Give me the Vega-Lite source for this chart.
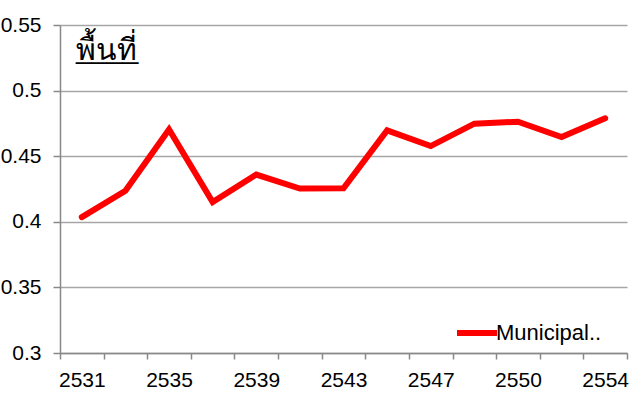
{
  "$schema": "https://vega.github.io/schema/vega-lite/v6.json",
  "width": 567,
  "height": 328,
  "autosize": {"type": "none"},
  "padding": {"left": 60, "top": 25, "right": 16, "bottom": 52},
  "background": "white",
  "title": {
    "text": "พื้นที่",
    "subtitle": "____",
    "anchor": "start",
    "frame": "group",
    "orient": "top",
    "offset": -52,
    "dx": 16,
    "fontSize": 30,
    "fontWeight": "normal",
    "color": "black",
    "font": "Noto Sans",
    "subtitleFont": "Liberation Sans",
    "subtitleFontSize": 28,
    "subtitleColor": "black",
    "subtitlePadding": -30
  },
  "data": {
    "values": [
      {"year": "2531", "value": 0.4036, "series": "Municipal.."},
      {"year": "2533", "value": 0.4237, "series": "Municipal.."},
      {"year": "2535", "value": 0.4704, "series": "Municipal.."},
      {"year": "2537", "value": 0.4151, "series": "Municipal.."},
      {"year": "2539", "value": 0.4360, "series": "Municipal.."},
      {"year": "2541", "value": 0.4253, "series": "Municipal.."},
      {"year": "2543", "value": 0.4255, "series": "Municipal.."},
      {"year": "2545", "value": 0.4697, "series": "Municipal.."},
      {"year": "2547", "value": 0.4577, "series": "Municipal.."},
      {"year": "2549", "value": 0.4748, "series": "Municipal.."},
      {"year": "2550", "value": 0.4763, "series": "Municipal.."},
      {"year": "2552", "value": 0.4646, "series": "Municipal.."},
      {"year": "2554", "value": 0.4789, "series": "Municipal.."}
    ]
  },
  "mark": {"type": "line", "strokeWidth": 6, "strokeCap": "round", "strokeJoin": "miter"},
  "encoding": {
    "x": {
      "field": "year",
      "type": "ordinal",
      "sort": null,
      "scale": {"type": "band", "paddingInner": 0, "paddingOuter": 0},
      "axis": {
        "title": null,
        "labelAngle": 0,
        "labelOverlap": false,
        "labelExpr": "indexof(['2531','2535','2539','2543','2547','2550','2554'], datum.label) >= 0 ? datum.label : ''",
        "tickBand": "extent",
        "tickSize": 6,
        "tickColor": "#888888",
        "domainColor": "#888888",
        "domainWidth": 1.5,
        "tickWidth": 1.5,
        "labelFont": "Liberation Sans",
        "labelFontSize": 21,
        "labelColor": "black",
        "labelPadding": 10,
        "grid": false
      }
    },
    "y": {
      "field": "value",
      "type": "quantitative",
      "scale": {"domain": [0.3, 0.55], "zero": false, "nice": false},
      "axis": {
        "title": null,
        "values": [0.3, 0.35, 0.4, 0.45, 0.5, 0.55],
        "format": "~g",
        "tickSize": 7,
        "tickColor": "#888888",
        "tickWidth": 1.5,
        "domainColor": "#888888",
        "domainWidth": 1.5,
        "gridColor": "#a6a6a6",
        "gridWidth": 1.5,
        "labelFont": "Liberation Sans",
        "labelFontSize": 21,
        "labelColor": "black",
        "labelPadding": 12
      }
    },
    "color": {
      "field": "series",
      "type": "nominal",
      "scale": {"range": ["#ff0000"]},
      "legend": {
        "title": null,
        "orient": "none",
        "legendX": 394,
        "legendY": 285,
        "padding": 0,
        "symbolType": "stroke",
        "symbolStrokeWidth": 6,
        "symbolSize": 1600,
        "labelFont": "Liberation Sans",
        "labelFontSize": 22,
        "labelColor": "black",
        "labelOffset": -4,
        "labelLimit": 300
      }
    }
  },
  "config": {"view": {"stroke": null}}
}
